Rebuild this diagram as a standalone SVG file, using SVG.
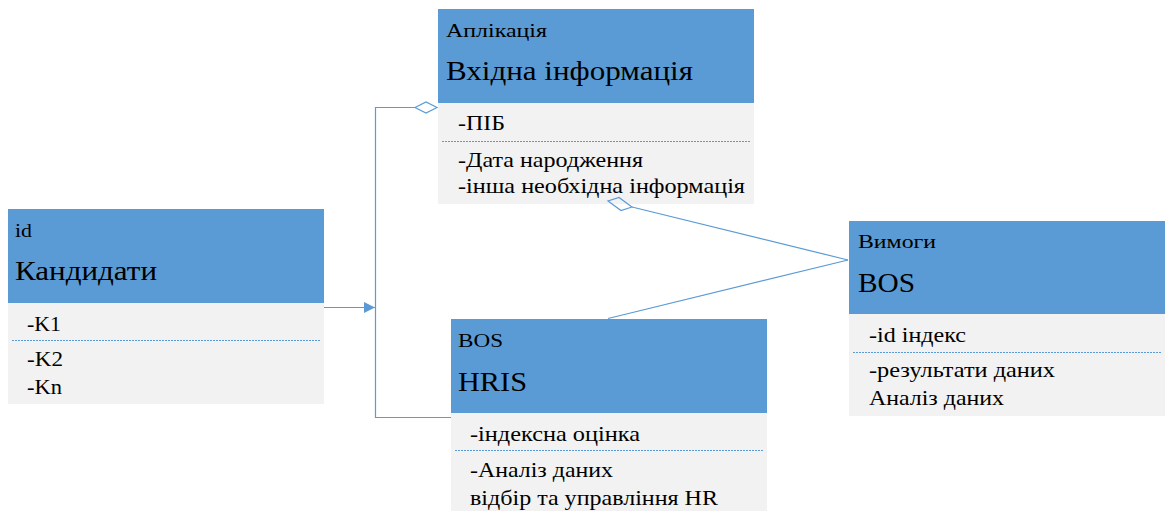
<svg xmlns="http://www.w3.org/2000/svg" width="1168" height="511" viewBox="0 0 1168 511">
  <style>
    text { font-family: 'Liberation Serif', 'Times New Roman', Times, 'DejaVu Serif', serif; fill: #000; }
    .hdr { fill: #5B9BD5; }
    .body { fill: #F2F2F2; }
    .sep { stroke: #5B9BD5; stroke-width: 1; stroke-dasharray: 2 1; }
    .small { font-size: 19px; }
    .title { font-size: 28px; }
    .attr { font-size: 21px; }
    .conn { stroke: #5B9BD5; stroke-width: 1.2; fill: none; }
  </style>
  <defs>
    <marker id="arrow" viewBox="0 0 10 10" refX="10" refY="5" markerWidth="15" markerHeight="11" markerUnits="userSpaceOnUse" orient="auto">
      <path d="M0,0 L10,5 L0,10 z" fill="#5B9BD5"/>
    </marker>
  </defs>

  <!-- Кандидати -->
  <g id="node-kandydaty">
    <rect class="hdr" x="8" y="209" width="316" height="94"/>
    <rect class="body" x="8" y="303" width="316" height="101"/>
    <line class="sep" x1="12" y1="340.5" x2="320" y2="340.5"/>
    <text class="small" x="15" y="237" textLength="17" lengthAdjust="spacingAndGlyphs">id</text>
    <text class="title" x="15" y="280" textLength="142" lengthAdjust="spacingAndGlyphs">Кандидати</text>
    <text class="attr" x="27" y="331" textLength="34" lengthAdjust="spacingAndGlyphs">-K1</text>
    <text class="attr" x="27" y="366" textLength="36" lengthAdjust="spacingAndGlyphs">-K2</text>
    <text class="attr" x="27" y="394" textLength="35" lengthAdjust="spacingAndGlyphs">-Kn</text>
  </g>

  <!-- Вхідна інформація -->
  <g id="node-input">
    <rect class="hdr" x="438" y="9" width="316" height="94"/>
    <rect class="body" x="438" y="103" width="316" height="101"/>
    <line class="sep" x1="442" y1="141.5" x2="750" y2="141.5"/>
    <text class="small" x="446" y="37" textLength="101" lengthAdjust="spacingAndGlyphs">Аплікація</text>
    <text class="title" x="446" y="80" textLength="247" lengthAdjust="spacingAndGlyphs">Вхідна інформація</text>
    <text class="attr" x="458" y="130" textLength="47" lengthAdjust="spacingAndGlyphs">-ПІБ</text>
    <text class="attr" x="458" y="167" textLength="185" lengthAdjust="spacingAndGlyphs">-Дата народження</text>
    <text class="attr" x="458" y="193" textLength="287" lengthAdjust="spacingAndGlyphs">-інша необхідна інформація</text>
  </g>

  <!-- BOS (Вимоги) -->
  <g id="node-vymogy">
    <rect class="hdr" x="849" y="221" width="316" height="93"/>
    <rect class="body" x="849" y="314" width="316" height="102"/>
    <line class="sep" x1="853" y1="352.5" x2="1161" y2="352.5"/>
    <text class="small" x="858" y="248" textLength="78" lengthAdjust="spacingAndGlyphs">Вимоги</text>
    <text class="title" x="858" y="292" textLength="57" lengthAdjust="spacingAndGlyphs">BOS</text>
    <text class="attr" x="869" y="342" textLength="97" lengthAdjust="spacingAndGlyphs">-id індекс</text>
    <text class="attr" x="869" y="377" textLength="186" lengthAdjust="spacingAndGlyphs">-результати даних</text>
    <text class="attr" x="869" y="405" textLength="135" lengthAdjust="spacingAndGlyphs">Аналіз даних</text>
  </g>

  <!-- HRIS -->
  <g id="node-hris">
    <rect class="hdr" x="451" y="319" width="316" height="94"/>
    <rect class="body" x="451" y="413" width="316" height="98"/>
    <line class="sep" x1="455" y1="450.5" x2="763" y2="450.5"/>
    <text class="small" x="458" y="347" textLength="45" lengthAdjust="spacingAndGlyphs">BOS</text>
    <text class="title" x="458" y="391" textLength="69" lengthAdjust="spacingAndGlyphs">HRIS</text>
    <text class="attr" x="470" y="441" textLength="170" lengthAdjust="spacingAndGlyphs">-індексна оцінка</text>
    <text class="attr" x="470" y="477" textLength="143" lengthAdjust="spacingAndGlyphs">-Аналіз даних</text>
    <text class="attr" x="470" y="505" textLength="248" lengthAdjust="spacingAndGlyphs">відбір та управління HR</text>
  </g>

  <!-- connectors -->
  <g id="connectors">
    <line class="conn" x1="324" y1="307.5" x2="375" y2="307.5" marker-end="url(#arrow)"/>
    <polyline class="conn" points="415,107.5 375.5,107.5 375.5,417.5 451,417.5"/>
    <polygon class="conn" points="415,107.5 426,102 437,107.5 426,113" fill="#fff"/>
    <line class="conn" x1="632" y1="207" x2="848" y2="260"/>
    <line class="conn" x1="848" y1="260" x2="608" y2="318.5"/>
    <polygon class="conn" points="632,207 621,210.5 608,201 619,197.5" fill="#fff"/>
  </g>
</svg>
